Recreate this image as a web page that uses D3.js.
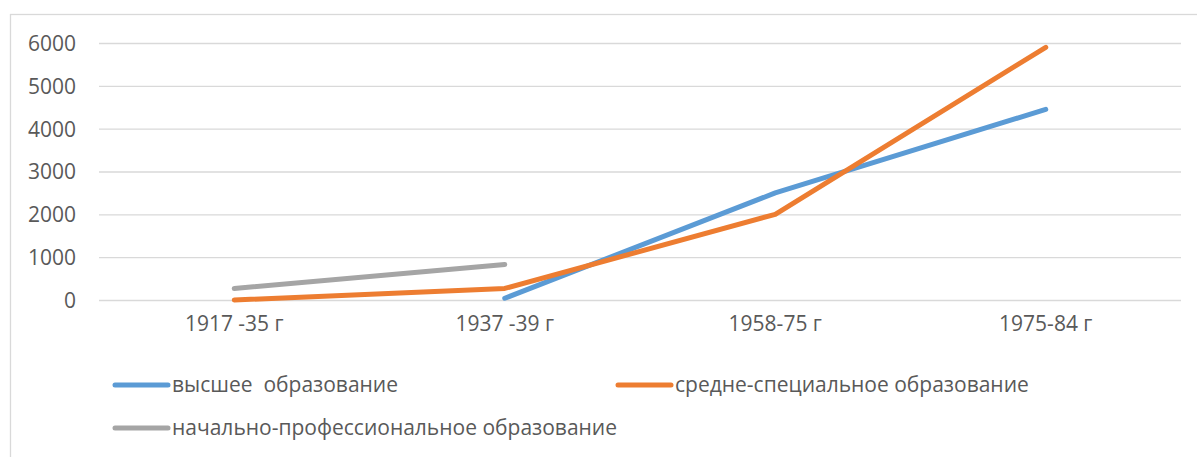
<!DOCTYPE html>
<html><head><meta charset="utf-8">
<script src="https://cdn.jsdelivr.net/npm/d3@7"></script>
<style>html,body{margin:0;padding:0;background:#fff;}svg{display:block;}</style>
</head><body>
<svg id="c" width="1197" height="457"></svg>
<script>
const categories = ["1917 -35 г", "1937 -39 г", "1958-75 г", "1975-84 г"];
const higher = [null, 40, 2500, 4450];
const secondary = [0, 270, 2000, 5900];
const primary = [270, 830, null, null];
const yTicks = [0, 1000, 2000, 3000, 4000, 5000, 6000];
const seriesNames = ["высшее  образование", "средне-специальное образование", "начально-профессиональное образование"];
const colors = ["#5b9bd5", "#ed7d31", "#a5a5a5"];

const svg = d3.select("#c");
const font = "'Open Sans', 'Noto Sans', sans-serif";
const textColor = "#595959";

// chart border
svg.append("rect").attr("x", 10.5).attr("y", 14.5).attr("width", 1200).attr("height", 460)
  .attr("fill", "none").attr("stroke", "#d9d9d9").attr("stroke-width", 1.3);

const x = d3.scaleBand().domain(categories).range([99, 1181]);
const y = d3.scaleLinear().domain([0, 6000]).range([300, 43]);

// gridlines
const yAxis = d3.axisLeft(y).tickValues(yTicks).tickSize(-(1181 - 99)).tickPadding(23).tickFormat(d3.format("d"));
const gy = svg.append("g").attr("transform", "translate(99,0)").call(yAxis);
gy.select(".domain").remove();
gy.selectAll(".tick line").attr("stroke", "#d9d9d9").attr("stroke-width", 1.3);
gy.selectAll(".tick text").attr("fill", textColor).style("font-family", font).style("font-size", "21px").attr("dy", "0.35em");

// x axis labels
const xAxis = d3.axisBottom(x).tickSize(0).tickPadding(16);
const gx = svg.append("g").attr("transform", "translate(0,300)").call(xAxis);
gx.select(".domain").remove();
gx.selectAll(".tick text").attr("fill", textColor).style("font-family", font).style("font-size", "21px");

const allSeries = [higher, secondary, primary];
const line = d3.line()
  .defined(d => d.v !== null)
  .x(d => x(d.c) + x.bandwidth() / 2)
  .y(d => y(d.v));

// draw order: gray first? keep blue under orange at crossing like reference
[2, 0, 1].forEach(i => {
  const data = categories.map((c, j) => ({ c, v: allSeries[i][j] }));
  svg.append("path").datum(data).attr("d", line)
    .attr("fill", "none").attr("stroke", colors[i]).attr("stroke-width", 5)
    .attr("stroke-linecap", "round").attr("stroke-linejoin", "round");
});

// legend
const legendPos = [[113, 385], [616, 385], [113, 428]];
seriesNames.forEach((n, i) => {
  const [lx, ly] = legendPos[i];
  svg.append("line").attr("x1", lx + 2).attr("x2", lx + 55).attr("y1", ly).attr("y2", ly)
    .attr("stroke", colors[i]).attr("stroke-width", 5).attr("stroke-linecap", "round");
  svg.append("text").attr("x", lx + 59).attr("y", ly).attr("dy", "0.35em")
    .attr("fill", textColor).style("font-family", font).style("font-size", "21px")
    .style("white-space", "pre").attr("xml:space", "preserve").text(n);
});
</script>
</body></html>
